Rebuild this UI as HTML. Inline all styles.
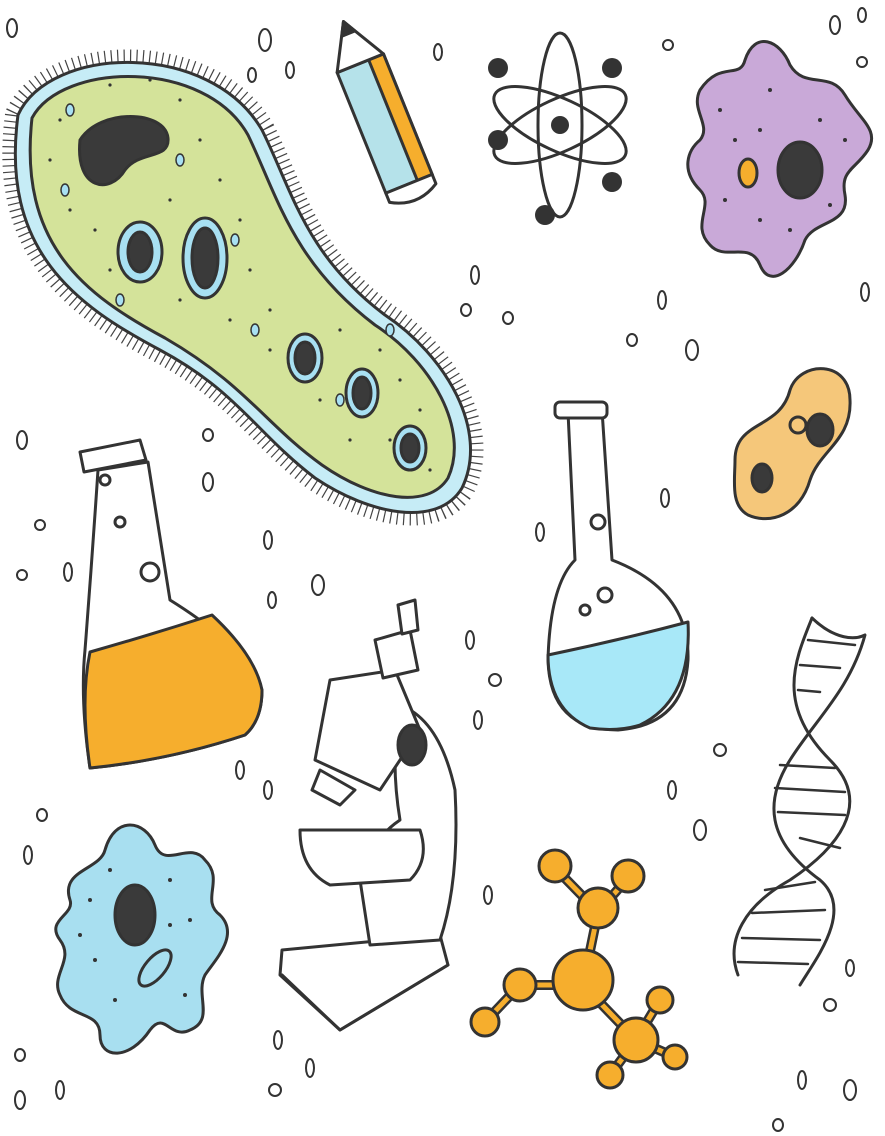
<!DOCTYPE html>
<html><head><meta charset="utf-8"><style>
html,body{margin:0;padding:0;background:#fff;}
svg{display:block}
</style></head><body>
<svg width="885" height="1136" viewBox="0 0 885 1136" xmlns="http://www.w3.org/2000/svg" stroke="#333" stroke-width="3" stroke-linejoin="round" stroke-linecap="round">
<!-- Paramecium -->
<g>
<path fill="none" stroke="#444" stroke-width="26" stroke-linecap="butt" stroke-dasharray="1.2 5" d="M18,115 C50,45 210,40 262,130 C292,190 305,255 385,315 C445,355 490,430 462,488 C438,528 370,515 315,478 C255,432 238,392 160,350 C75,305 0,250 18,115 Z"/>
<path fill="#c6ecf6" d="M18,115 C50,45 210,40 262,130 C292,190 305,255 385,315 C445,355 490,430 462,488 C438,528 370,515 315,478 C255,432 238,392 160,350 C75,305 0,250 18,115 Z"/>
<path fill="#d4e39a" d="M32,118 C62,62 205,58 248,135 C277,195 292,262 375,325 C432,362 470,430 448,478 C428,510 372,500 322,465 C265,424 246,385 165,338 C85,295 18,245 32,118 Z"/>
<g fill="#333" stroke="none">
<circle cx="60" cy="120" r="1.6"/><circle cx="50" cy="160" r="1.6"/><circle cx="70" cy="210" r="1.6"/><circle cx="95" cy="230" r="1.6"/><circle cx="180" cy="100" r="1.6"/><circle cx="200" cy="140" r="1.6"/><circle cx="220" cy="180" r="1.6"/><circle cx="240" cy="220" r="1.6"/><circle cx="250" cy="270" r="1.6"/><circle cx="270" cy="310" r="1.6"/><circle cx="340" cy="330" r="1.6"/><circle cx="380" cy="350" r="1.6"/><circle cx="400" cy="380" r="1.6"/><circle cx="420" cy="410" r="1.6"/><circle cx="390" cy="440" r="1.6"/><circle cx="350" cy="440" r="1.6"/><circle cx="320" cy="400" r="1.6"/><circle cx="270" cy="350" r="1.6"/><circle cx="230" cy="320" r="1.6"/><circle cx="180" cy="300" r="1.6"/><circle cx="110" cy="270" r="1.6"/><circle cx="100" cy="180" r="1.6"/><circle cx="170" cy="200" r="1.6"/><circle cx="150" cy="80" r="1.6"/><circle cx="110" cy="85" r="1.6"/><circle cx="430" cy="470" r="1.6"/>
</g>
<g fill="#a8e0f2" stroke-width="1.5">
<ellipse cx="65" cy="190" rx="4" ry="6"/><ellipse cx="180" cy="160" rx="4" ry="6"/><ellipse cx="235" cy="240" rx="4" ry="6"/><ellipse cx="255" cy="330" rx="4" ry="6"/><ellipse cx="340" cy="400" rx="4" ry="6"/><ellipse cx="120" cy="300" rx="4" ry="6"/><ellipse cx="390" cy="330" rx="4" ry="6"/><ellipse cx="70" cy="110" rx="4" ry="6"/>
</g>
<path fill="#3a3a3a" d="M80,140 C100,108 165,110 168,138 C170,160 140,150 125,170 C110,195 75,190 80,140 Z"/>
<ellipse cx="140" cy="252" rx="22" ry="30" fill="#a8e0f2"/><ellipse cx="140" cy="252" rx="12" ry="20" fill="#3a3a3a"/>
<ellipse cx="205" cy="258" rx="22" ry="40" fill="#a8e0f2"/><ellipse cx="205" cy="258" rx="13" ry="30" fill="#3a3a3a"/>
<ellipse cx="305" cy="358" rx="17" ry="24" fill="#a8e0f2"/><ellipse cx="305" cy="358" rx="10" ry="16" fill="#3a3a3a"/>
<ellipse cx="362" cy="393" rx="16" ry="24" fill="#a8e0f2"/><ellipse cx="362" cy="393" rx="9" ry="16" fill="#3a3a3a"/>
<ellipse cx="410" cy="448" rx="16" ry="22" fill="#a8e0f2"/><ellipse cx="410" cy="448" rx="9" ry="14" fill="#3a3a3a"/>
</g>
<!-- Pencil -->
<g transform="rotate(-22 380 120)">
<rect x="358" y="60" width="50" height="130" fill="#b5e2ea"/>
<rect x="392" y="60" width="16" height="130" fill="#f6ae2d"/>
<path d="M358,60 L383,15 L408,60 Z" fill="#fff"/>
<path d="M376,28 L383,15 L390,28 Z" fill="#333"/>
<path d="M358,190 L408,190 L408,200 Q383,215 358,200 Z" fill="#fff"/>
</g>
<!-- Atom -->
<g fill="none">
<ellipse cx="560" cy="125" rx="72" ry="26" transform="rotate(25 560 125)"/>
<ellipse cx="560" cy="125" rx="72" ry="26" transform="rotate(-25 560 125)"/>
<ellipse cx="560" cy="125" rx="22" ry="92"/>
<g fill="#333" stroke="none">
<circle cx="560" cy="125" r="9"/><circle cx="498" cy="68" r="10"/><circle cx="612" cy="68" r="10"/><circle cx="498" cy="140" r="10"/><circle cx="612" cy="182" r="10"/><circle cx="545" cy="215" r="10"/>
</g></g>
<!-- Purple amoeba -->
<g>
<path fill="#c9a9d8" d="M700,90 C720,60 740,80 745,60 C755,30 780,40 790,65 C805,90 830,70 845,95 C860,120 880,130 868,150 C855,170 840,170 845,195 C850,225 815,220 805,240 C795,270 770,290 760,265 C750,240 725,262 710,245 C690,225 715,205 700,190 C680,170 688,150 700,140 C712,125 690,110 700,90 Z"/>
<ellipse cx="800" cy="170" rx="22" ry="28" fill="#3a3a3a"/>
<ellipse cx="748" cy="173" rx="9" ry="14" fill="#f6ae2d"/>
<g fill="#333" stroke="none"><circle cx="720" cy="110" r="2"/><circle cx="735" cy="140" r="2"/><circle cx="770" cy="90" r="2"/><circle cx="820" cy="120" r="2"/><circle cx="845" cy="140" r="2"/><circle cx="760" cy="220" r="2"/><circle cx="790" cy="230" r="2"/><circle cx="725" cy="200" r="2"/><circle cx="830" cy="205" r="2"/><circle cx="760" cy="130" r="2"/></g>
</g>
<!-- Orange cell -->
<g>
<path fill="#f5c77a" d="M735,460 C735,420 780,430 790,390 C800,360 850,360 850,400 C852,440 820,450 810,480 C800,515 770,525 748,515 C730,505 735,480 735,460 Z"/>
<ellipse cx="820" cy="430" rx="13" ry="16" fill="#3a3a3a"/>
<ellipse cx="762" cy="478" rx="10" ry="14" fill="#3a3a3a"/>
<circle cx="798" cy="425" r="8" fill="none"/>
</g>
<!-- Orange flask -->
<g>
<path fill="#fff" d="M98,470 L148,462 L170,600 Q250,650 262,690 Q262,720 245,735 Q170,760 90,768 Q80,700 85,650 Q92,560 98,470 Z"/>
<path fill="#f6ae2d" d="M90,652 Q150,635 212,615 Q255,655 262,690 Q262,720 245,735 Q170,760 90,768 Q80,700 90,652 Z"/>
<path fill="#fff" d="M80,452 L140,440 L146,460 L84,472 Z"/>
<circle cx="150" cy="572" r="9" fill="none"/><circle cx="120" cy="522" r="5" fill="none"/><circle cx="105" cy="480" r="5" fill="none"/>
</g>
<!-- Blue flask -->
<g>
<path fill="#fff" d="M568,412 L602,410 L612,560 Q690,590 688,660 Q684,725 618,730 Q550,730 548,660 Q550,585 575,560 Z"/>
<path fill="#a8e8f8" d="M548,655 Q620,640 688,622 Q692,700 640,725 Q618,732 590,728 Q548,710 548,655 Z"/>
<rect x="555" y="402" width="52" height="16" rx="5" fill="#fff"/>
<circle cx="598" cy="522" r="7" fill="none"/><circle cx="605" cy="595" r="7" fill="none"/><circle cx="585" cy="610" r="5" fill="none"/>
</g>
<!-- Microscope -->
<g fill="#fff">
<path d="M282,950 L440,935 L448,965 L340,1030 L280,975 Z"/>
<path d="M282,975 L340,1030 L448,965" fill="none"/>
<path d="M360,880 Q370,840 400,820 Q390,760 400,705 Q440,720 455,790 Q460,880 440,940 L370,945 Z"/>
<path d="M300,830 L420,830 Q430,860 410,880 L330,885 Q300,870 300,830 Z"/>
<path d="M330,680 L395,670 L420,730 L380,790 L315,760 Z"/>
<path d="M320,770 L355,790 L340,805 L312,790 Z"/>
<path d="M375,640 L410,630 L418,670 L383,678 Z"/>
<path d="M398,605 L415,600 L418,630 L402,634 Z"/>
<ellipse cx="412" cy="745" rx="14" ry="20" fill="#3a3a3a"/>
</g>
<!-- DNA -->
<g fill="none">
<path d="M812,618 C795,660 775,705 830,760 C875,805 835,850 790,880 C745,905 725,940 738,975"/>
<path d="M812,618 C835,640 855,640 865,635 C850,690 815,720 790,760 C765,800 765,840 820,880 C855,910 815,960 800,985"/>
<g stroke-width="2.5">
<line x1="808" y1="640" x2="855" y2="645"/><line x1="800" y1="665" x2="840" y2="668"/><line x1="798" y1="690" x2="820" y2="692"/>
<line x1="780" y1="765" x2="835" y2="768"/><line x1="775" y1="788" x2="845" y2="792"/><line x1="778" y1="812" x2="845" y2="815"/>
<line x1="800" y1="838" x2="840" y2="848"/><line x1="765" y1="890" x2="815" y2="882"/><line x1="752" y1="913" x2="825" y2="910"/>
<line x1="742" y1="938" x2="820" y2="940"/><line x1="738" y1="962" x2="808" y2="964"/>
</g></g>
<!-- Blue amoeba -->
<g>
<path fill="#a8dff0" d="M70,900 C60,870 100,870 105,850 C115,815 145,820 155,845 C165,870 190,840 205,860 C225,880 200,900 220,915 C240,935 215,960 205,975 C195,995 215,1020 190,1030 C170,1040 165,1010 150,1030 C130,1060 100,1060 100,1035 C100,1010 70,1020 60,995 C50,975 75,960 60,940 C45,920 75,915 70,900 Z"/>
<ellipse cx="135" cy="915" rx="20" ry="30" fill="#3a3a3a"/>
<ellipse cx="155" cy="968" rx="10" ry="22" transform="rotate(40 155 968)" fill="none"/>
<g fill="#333" stroke="none"><circle cx="90" cy="900" r="2"/><circle cx="110" cy="870" r="2"/><circle cx="170" cy="880" r="2"/><circle cx="190" cy="920" r="2"/><circle cx="95" cy="960" r="2"/><circle cx="115" cy="1000" r="2"/><circle cx="185" cy="995" r="2"/><circle cx="80" cy="935" r="2"/><circle cx="170" cy="925" r="2"/></g>
</g>
<!-- Molecule -->
<g fill="#f6ae2d">
<g stroke-width="10" stroke="#333"><line x1="583" y1="985" x2="598" y2="912"/><line x1="598" y1="912" x2="555" y2="868"/><line x1="598" y1="912" x2="628" y2="878"/><line x1="583" y1="985" x2="520" y2="985"/><line x1="520" y1="985" x2="485" y2="1022"/><line x1="583" y1="985" x2="636" y2="1040"/><line x1="636" y1="1040" x2="660" y2="1000"/><line x1="636" y1="1040" x2="675" y2="1057"/><line x1="636" y1="1040" x2="610" y2="1075"/></g>
<g stroke-width="5" stroke="#f6ae2d"><line x1="583" y1="985" x2="598" y2="912"/><line x1="598" y1="912" x2="555" y2="868"/><line x1="598" y1="912" x2="628" y2="878"/><line x1="583" y1="985" x2="520" y2="985"/><line x1="520" y1="985" x2="485" y2="1022"/><line x1="583" y1="985" x2="636" y2="1040"/><line x1="636" y1="1040" x2="660" y2="1000"/><line x1="636" y1="1040" x2="675" y2="1057"/><line x1="636" y1="1040" x2="610" y2="1075"/></g>
<circle cx="583" cy="980" r="30"/><circle cx="598" cy="908" r="20"/><circle cx="555" cy="866" r="16"/><circle cx="628" cy="876" r="16"/><circle cx="520" cy="985" r="16"/><circle cx="485" cy="1022" r="14"/><circle cx="636" cy="1040" r="22"/><circle cx="660" cy="1000" r="13"/><circle cx="675" cy="1057" r="12"/><circle cx="610" cy="1075" r="13"/>
</g>
<!-- Droplets -->
<g fill="none" stroke-width="2">
<ellipse cx="265" cy="40" rx="6" ry="11"/><ellipse cx="290" cy="70" rx="4" ry="8"/><ellipse cx="252" cy="75" rx="4" ry="7"/><ellipse cx="438" cy="52" rx="4" ry="8"/><ellipse cx="12" cy="28" rx="5" ry="9"/><ellipse cx="668" cy="45" rx="5" ry="5"/><ellipse cx="835" cy="25" rx="5" ry="9"/><ellipse cx="862" cy="15" rx="4" ry="7"/><ellipse cx="862" cy="62" rx="5" ry="5"/><ellipse cx="865" cy="292" rx="4" ry="9"/><ellipse cx="475" cy="275" rx="4" ry="9"/><ellipse cx="466" cy="310" rx="5" ry="6"/><ellipse cx="508" cy="318" rx="5" ry="6"/><ellipse cx="662" cy="300" rx="4" ry="9"/><ellipse cx="632" cy="340" rx="5" ry="6"/><ellipse cx="692" cy="350" rx="6" ry="10"/><ellipse cx="22" cy="440" rx="5" ry="9"/><ellipse cx="208" cy="435" rx="5" ry="6"/><ellipse cx="208" cy="482" rx="5" ry="9"/><ellipse cx="40" cy="525" rx="5" ry="5"/><ellipse cx="268" cy="540" rx="4" ry="9"/><ellipse cx="22" cy="575" rx="5" ry="5"/><ellipse cx="68" cy="572" rx="4" ry="9"/><ellipse cx="318" cy="585" rx="6" ry="10"/><ellipse cx="272" cy="600" rx="4" ry="8"/><ellipse cx="540" cy="532" rx="4" ry="9"/><ellipse cx="665" cy="498" rx="4" ry="9"/><ellipse cx="470" cy="640" rx="4" ry="9"/><ellipse cx="495" cy="680" rx="6" ry="6"/><ellipse cx="478" cy="720" rx="4" ry="9"/><ellipse cx="240" cy="770" rx="4" ry="9"/><ellipse cx="268" cy="790" rx="4" ry="9"/><ellipse cx="720" cy="750" rx="6" ry="6"/><ellipse cx="672" cy="790" rx="4" ry="9"/><ellipse cx="700" cy="830" rx="6" ry="10"/><ellipse cx="42" cy="815" rx="5" ry="6"/><ellipse cx="28" cy="855" rx="4" ry="9"/><ellipse cx="488" cy="895" rx="4" ry="9"/><ellipse cx="850" cy="968" rx="4" ry="8"/><ellipse cx="830" cy="1005" rx="6" ry="6"/><ellipse cx="278" cy="1040" rx="4" ry="9"/><ellipse cx="310" cy="1068" rx="4" ry="9"/><ellipse cx="275" cy="1090" rx="6" ry="6"/><ellipse cx="20" cy="1055" rx="5" ry="6"/><ellipse cx="60" cy="1090" rx="4" ry="9"/><ellipse cx="20" cy="1100" rx="5" ry="9"/><ellipse cx="802" cy="1080" rx="4" ry="9"/><ellipse cx="850" cy="1090" rx="6" ry="10"/><ellipse cx="778" cy="1125" rx="5" ry="6"/>
</g>
</svg>
</body></html>
